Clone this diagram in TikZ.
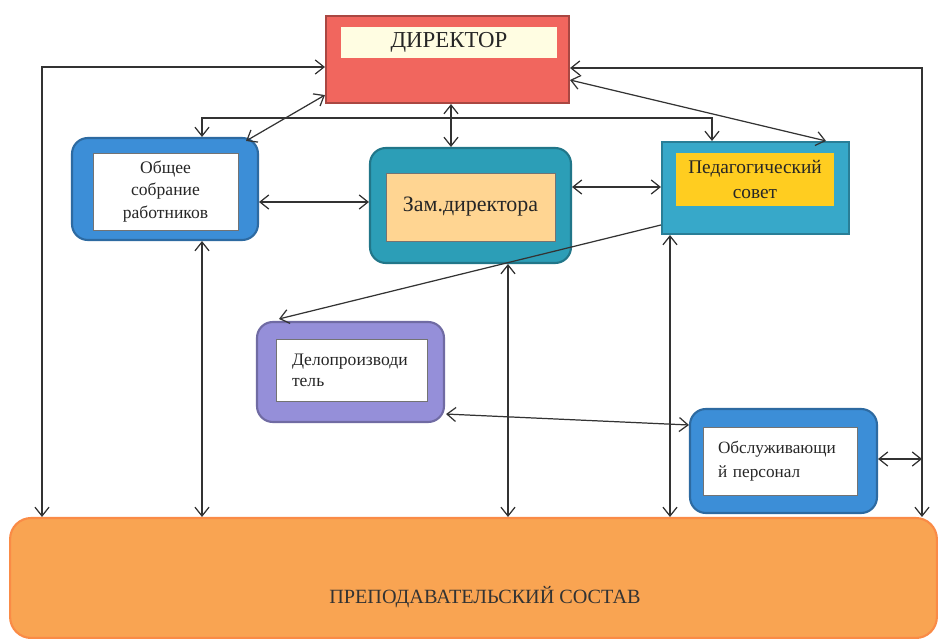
\documentclass[tikz,border=0pt]{standalone}
\usepackage{fontspec}
\setmainfont{Liberation Serif}
\usepackage{tikz}
\usetikzlibrary{arrows.meta, calc}

\definecolor{dirred}{HTML}{F1665E}
\definecolor{dircream}{HTML}{FFFDE2}
\definecolor{boxblue}{HTML}{3C8ED7}
\definecolor{boxteal}{HTML}{2C9EB7}
\definecolor{pedteal}{HTML}{37A8C9}
\definecolor{zamcream}{HTML}{FFD592}
\definecolor{pedyellow}{HTML}{FFCD20}
\definecolor{clerkviolet}{HTML}{958FD9}
\definecolor{stafforange}{HTML}{F9A452}

\begin{document}
\begin{tikzpicture}[
    x=0.02cm, y=-0.02cm,
    outerbox/.style={line width=1.2pt, rounded corners=9pt},
    flatbox/.style={line width=1.2pt},
    innerbox/.style={draw=black!55, line width=0.5pt, inner sep=0pt, align=center, text=black!85},
    biarrow/.style={{Straight Barb[length=5pt,width=8pt]}-{Straight Barb[length=5pt,width=8pt]}, line width=0.7pt, draw=black!80},
    onearrow/.style={-{Straight Barb[length=5pt,width=8pt]}, line width=0.7pt, draw=black!80}
]
\useasboundingbox (0,0) rectangle (938,639);

% === DIRECTOR ===
\node[flatbox, draw=dirred!70!black, fill=dirred, minimum width=4.86cm, minimum height=1.74cm] (director) at (447.5,59.5) {};
\node[innerbox, draw=none, fill=dircream, minimum width=4.32cm, minimum height=0.62cm, font=\fontsize{13}{15}\selectfont] (directortxt) at (449,42.5) {ДИРЕКТОР};

% === SECOND ROW ===
\node[outerbox, draw=boxblue!75!black, fill=boxblue, minimum width=3.72cm, minimum height=2.04cm] (general) at (165,189) {};
\node[innerbox, fill=white, minimum width=2.9cm, minimum height=1.54cm, font=\fontsize{10}{13}\selectfont] (generaltxt) at (165.5,191.5) {Общее\\собрание\\работников};

\node[outerbox, draw=boxteal!75!black, fill=boxteal, minimum width=4.02cm, minimum height=2.3cm] (deputy) at (470.5,205.5) {};
\node[innerbox, fill=zamcream, minimum width=3.38cm, minimum height=1.36cm, font=\fontsize{12.5}{15}\selectfont] (deputytxt) at (470.5,207) {Зам.директора};

\node[flatbox, draw=pedteal!75!black, fill=pedteal, minimum width=3.74cm, minimum height=1.84cm] (ped) at (755.5,188) {};
\node[innerbox, draw=none, fill=pedyellow, minimum width=3.16cm, minimum height=1.06cm, font=\fontsize{11}{14}\selectfont] (pedtxt) at (755,179.5) {Педагогический\\совет};

% === THIRD ROW ===
\node[outerbox, draw=clerkviolet!75!black, fill=clerkviolet, minimum width=3.74cm, minimum height=2cm] (clerk) at (350.5,372) {};
\node[innerbox, fill=white, align=left, text width=2.38cm, inner xsep=0.32cm, minimum height=1.24cm, font=\fontsize{10}{12}\selectfont] (clerktxt) at (351.5,370) {Делопроизводи\\тель};

\node[outerbox, draw=boxblue!75!black, fill=boxblue, minimum width=3.74cm, minimum height=2.08cm] (service) at (783.5,461) {};
\node[innerbox, fill=white, align=left, text width=2.48cm, inner xsep=0.3cm, minimum height=1.36cm, font=\fontsize{9.8}{14}\selectfont] (servicetxt) at (780,461) {Обслуживающи\\й персонал};

% === TEACHING STAFF ===
\node[outerbox, rounded corners=12pt, draw=stafforange!85!red, fill=stafforange, minimum width=18.54cm, minimum height=2.4cm] (staff) at (473.5,578) {};
\node[text=black!80, font=\fontsize{11.5}{14}\selectfont] (stafftxt) at (485,597) {ПРЕПОДАВАТЕЛЬСКИЙ СОСТАВ};

% === CONNECTORS ===
\coordinate (leftrail) at (42,0);
\coordinate (rightrail) at (922,0);

\draw[biarrow] ($(director.west)+(0,7.5)$) -| (leftrail |- staff.north);
\draw[biarrow] ($(director.east)+(0,8.5)$) -| (rightrail |- staff.north);
\draw[biarrow] ($(director.east)+(0,20.5)$) -- ($(ped.north east)+(-24,0)$);
\draw[biarrow] ($(director.south west)+(0,-9)$) -- ($(general.north east)+(-13,4)$);
\draw[biarrow] (451,0 |- director.south) -- (451,0 |- deputy.north);
\draw[biarrow] (202,0 |- general.north) -- ++(0,-19) -| (712,0 |- ped.north);

\draw[biarrow] (general.east |- 0,202) -- (deputy.west |- 0,202);
\draw[biarrow] (deputy.east |- 0,187) -- (ped.west |- 0,187);
\draw[onearrow] ($(ped.west)+(0,37)$) -- ($(clerk.north west)+(23,-2)$);
\draw[biarrow] ($(clerk.south east)+(1,-9)$) -- ($(service.west)+(0,-36)$);
\draw[biarrow] ($(service.east)+(0,-2)$) -- (rightrail |- 0,459);

\foreach \xpos/\src in {202/general, 508/deputy, 670/ped} {
    \draw[biarrow] (\xpos,0 |- \src.south) -- (\xpos,0 |- staff.north);
}

\end{tikzpicture}
\end{document}
